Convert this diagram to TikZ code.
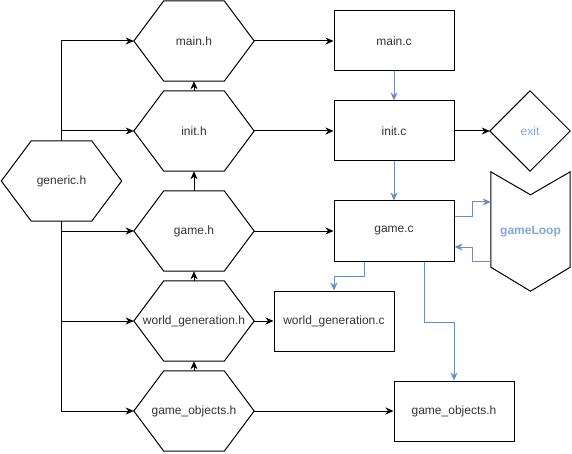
\documentclass[tikz,border=0pt]{standalone}
\usepackage{fontspec}
\setmainfont{Liberation Sans}
\usetikzlibrary{arrows.meta}
\definecolor{linkblue}{HTML}{6C8EBF}
\definecolor{labelblue}{HTML}{7EA6E0}
\begin{document}
\begin{tikzpicture}[x=1pt,y=-1pt,
  font=\fontsize{12}{14}\selectfont,
  txt/.style={text=black!80},
  hexbox/.style={rectangle,minimum width=120pt,minimum height=80pt,inner sep=0pt,txt},
  filebox/.style={rectangle,draw,line width=1pt,minimum width=120pt,minimum height=60pt,inner sep=0pt,txt},
  plainbox/.style={rectangle,minimum width=80pt,inner sep=0pt},
  outline/.style={line width=1pt,line join=miter},
  link/.style={line width=1pt,-{Stealth[length=8pt,width=7pt,inset=2.5pt]}},
  bluelink/.style={link,draw=linkblue}]
\useasboundingbox (0,0) rectangle (572,454);

% header files (hexagons)
\node[hexbox] (generich) at (61.5,181) {generic.h};
\node[hexbox] (mainh) at (194,41) {main.h};
\node[hexbox] (inith) at (194,131) {init.h};
\node[hexbox] (gameh) at (194,231) {game.h};
\node[hexbox] (wgh) at (194,321) {world\_generation.h};
\node[hexbox] (goh) at (194,411) {game\_objects.h};
\foreach \h in {generich,mainh,inith,gameh,wgh,goh}{
  \draw[outline] (\h.west) -- ([xshift=30pt]\h.north west) -- ([xshift=-30pt]\h.north east)
    -- (\h.east) -- ([xshift=-30pt]\h.south east) -- ([xshift=30pt]\h.south west) -- cycle;
}

% source files
\node[filebox] (mainc) at (394,41) {main.c};
\node[filebox] (initc) at (394,131) {init.c};
\node[filebox] (gamec) at (394,231) {game.c};
\node[filebox] (wgc) at (334,321) {world\_generation.c};
\node[filebox] (gob) at (454,411) {game\_objects.h};

% exit diamond
\node[plainbox,minimum height=80pt,text=labelblue] (exit) at (530,131) {exit};
\draw[outline] (exit.west) -- (exit.north) -- (exit.east) -- (exit.south) -- cycle;

% game loop step shape
\node[plainbox,minimum width=79pt,minimum height=119pt,text=labelblue,font=\fontsize{12}{14}\selectfont\bfseries] (loop) at (530.5,231.5) {gameLoop};
\draw[outline] (loop.north west) -- ([yshift=-23pt]loop.north) -- (loop.north east)
  -- ([yshift=24pt]loop.south east) -- (loop.south) -- ([yshift=24pt]loop.south west) -- cycle;

% includes from generic.h
\draw[link] (generich.north) |- (mainh.west);
\draw[link] (generich.north) |- (inith.west);
\draw[link] (generich.south) |- (gameh.west);
\draw[link] (generich.south) |- (wgh.west);
\draw[link] (generich.south) |- (goh.west);

% header chain
\draw[link] (inith.north) -- (mainh.south);
\draw[link] (gameh.north) -- (inith.south);
\draw[link] (wgh.north) -- (gameh.south);
\draw[link] (goh.north) -- (wgh.south);

% headers to sources
\draw[link] (mainh.east) -- (mainc.west);
\draw[link] (inith.east) -- (initc.west);
\draw[link] (gameh.east) -- (gamec.west);
\draw[link] (wgh.east) -- (wgc.west);
\draw[link] (goh.east) -- (gob.west);
\draw[link] (initc.east) -- (exit.west);

% program flow
\draw[bluelink] (mainc.south) -- (initc.north);
\draw[bluelink] (initc.south) -- (gamec.north);
\draw[bluelink] ([yshift=14pt]gamec.east) -- ++(18,0) |- ([yshift=29.5pt]loop.west);
\draw[bluelink] ([yshift=-29.5pt]loop.west) -- ++(-18,0) |- ([yshift=-16pt]gamec.east);
\draw[bluelink] ([xshift=-30pt]gamec.south) -- ++(0,15) -| (wgc.north);
\draw[bluelink] ([xshift=30pt]gamec.south) -- ++(0,61) -| (gob.north);
\end{tikzpicture}
\end{document}
